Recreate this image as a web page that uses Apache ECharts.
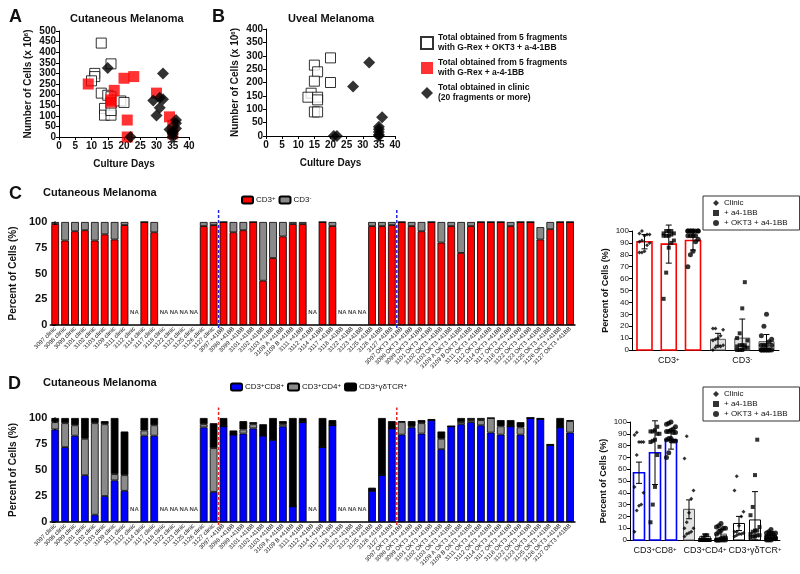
<!DOCTYPE html>
<html><head><meta charset="utf-8">
<script src="https://cdn.jsdelivr.net/npm/echarts@6/dist/echarts.min.js"></script>
<style>html,body{margin:0;padding:0;background:#fff}#c{width:800px;height:574px}</style>
</head><body><div id="c"></div>
<script>
// ---------- Panel A (Cutaneous) ----------
const aOkt3 = [[13,443],[16,345],[11,300],[11,285],[10,265],[13,207],[15,197],[16,190],[14,135],[14,103],[16,103],[16,125],[16,160],[19,170],[20,163]];
const aBB = [[9,250],[17,220],[16,175],[16,165],[20,277],[23,285],[21,80],[21,0],[30,207],[34,95],[35,55],[35,15]];
const aClinic = [[15,325],[22,0],[32,300],[29,172],[31,185],[32,178],[31,138],[30,102],[34,35],[35,0],[35,15],[36,80],[36,65],[36,40],[35,25]];
// ---------- Panel B (Uveal) ----------
const bOkt3 = [[15,265],[16,240],[15,205],[20,292],[20,200],[14,160],[13,145],[16,145],[16,135],[15,90],[16,90]];
const bClinic = [[32,275],[27,185],[36,70],[35,35],[35,25],[35,15],[35,5],[35,0],[21,0],[22,0]];

// ---------- Panels C / D categories ----------
const clinicLabels = ['3097 clinic','3098 clinic','3099 clinic','3101 clinic','3102 clinic','3103 clinic','3109 clinic','3111 clinic','3112 clinic','3114 clinic','3117 clinic','3118 clinic','3122 clinic','3123 clinic','3125 clinic','3126 clinic','3127 clinic'];
const bbLabels = ['3097 +41BB','3098 +41BB','3099 +41BB','3101 +41BB','3102 +41BB','3103 +41BB','3109 A +41BB','3109 B +41BB','3111 +41BB','3112 +41BB','3114 +41BB','3117 +41BB','3118 +41BB','3122 +41BB','3123 +41BB','3125 +41BB','3126 +41BB','3127 +41BB'];
const okt3Labels = ['3097 OKT3 +41BB','3098 OKT3 +41BB','3099 OKT3 +41BB','3101 OKT3 +41BB','3102 OKT3 +41BB','3103 OKT3 +41BB','3109 A OKT3 +41BB','3109 B OKT3 +41BB','3111 OKT3 +41BB','3112 OKT3 +41BB','3114 OKT3 +41BB','3117 OKT3 +41BB','3118 OKT3 +41BB','3122 OKT3 +41BB','3123 OKT3 +41BB','3125 OKT3 +41BB','3126 OKT3 +41BB','3127 OKT3 +41BB'];

// Panel C (percent), null = NA
const cCD3pos = [98,82,91,92,82,88,83,97,null,100,90,null,null,null,null,96,97,
                 100,90,92,100,43,65,86,98,98,null,100,96,null,null,null,96,96,97,
                 100,96,91,100,80,96,70,96,100,100,100,96,100,100,83,93,100,100];
const cCD3neg = [2,18,9,8,18,12,17,3,null,0,10,null,null,null,null,4,3,
                 0,10,8,0,57,35,14,2,2,null,0,4,null,null,null,4,4,3,
                 0,4,9,0,20,4,30,4,0,0,0,4,0,0,12,7,0,0];
// Panel D (percent), null = NA
const dCD8 = [89,72,83,45,7,25,40,30,null,83,83,null,null,null,null,91,29,
              92,84,85,90,83,79,92,15,96,null,72,93,null,null,null,30,45,90,
              84,91,85,98,70,92,94,96,93,86,84,92,84,100,99,74,91,86];
const dCD4 = [7,23,10,35,88,69,6,15,null,5,10,null,null,null,null,3,42,
              0,0,4,4,0,0,2,0,0,null,0,0,null,null,null,0,0,0,
              12,1,10,0,10,0,2,2,5,14,8,0,7,0,0,0,0,11];
const dGD  = [4,5,7,20,5,3,54,42,null,12,7,null,null,null,null,6,24,
              8,4,8,2,11,21,3,85,4,null,28,5,null,null,null,3,55,7,
              1,5,3,1,7,0,4,2,2,0,6,6,5,0,1,1,9,1];

// Small summary charts: mean and error per group
const cSmallCats = ['CD3+','CD3-'];
const cMeanClinic = [91,9],  cErrClinic = [6,5];
const cMeanBB     = [89,10], cErrBB     = [16,16];
const cMeanOKT3   = [92,7],  cErrOKT3   = [8,6];
const dSmallCats = ['CD3+CD8+','CD3+CD4+','CD3+γδTCR+'];
const dMeanClinic = [57,26,14], dErrClinic = [9,8,6];
const dMeanBB     = [74,3,17],  dErrBB     = [27,2,24];
const dMeanOKT3   = [85,5,4],   dErrOKT3   = [8,4,3];

// ---------------------------------------------------------------
const F = 'Liberation Sans, Arial, sans-serif';
const cats = clinicLabels.concat(bbLabels, okt3Labels);
const nC = clinicLabels.length, nB = bbLabels.length;
const chart = echarts.init(document.getElementById('c'));

const sup = {s:{fontSize:6, verticalAlign:'top', fontFamily:F, color:'#111', padding:[0,0,4,0]}};
function supLabel(t){ return t.replace(/([+-])/g,'{s|$1}'); }

const naData = a => a.map((v,i)=> v===null?[i,12]:null).filter(Boolean);

function groupVals(arr, g){
  const s = g===0?0:(g===1?nC:nC+nB), e = g===0?nC:(g===1?nC+nB:cats.length);
  return arr.slice(s,e).filter(v=>v!==null);
}
function jitterPts(vals, center, spread){
  const sorted = vals.slice().sort((a,b)=>a-b);
  return sorted.map((v,k)=>[center + ((k%5)-2)*spread, v]);
}

const smallBarStyles = {
  cPos:{fill:'#fff',stroke:'#ff0000',lw:1.6},
  cNeg:{fill:'#e2e2e2',stroke:'#555',lw:1},
  dCD8:{fill:'#fff',stroke:'#0000ff',lw:1.6},
  dCD4:{fill:'#e2e2e2',stroke:'#555',lw:1},
  dGD:{fill:'#fff',stroke:'#000',lw:1}
};
function barRender(w, src){
  return function(params, api){
    const x=api.value(0), y=api.value(1), st=smallBarStyles[src[params.dataIndex][2]];
    const p0=api.coord([x,0]), p1=api.coord([x,y]);
    return {type:'rect', shape:{x:p0[0]-w/2,y:p1[1],width:w,height:p0[1]-p1[1]},
      style:{fill:st.fill,stroke:st.stroke,lineWidth:st.lw}};
  };
}
function errRender(cap){
  return function(params, api){
    const x=api.value(0), m=api.value(1), e=api.value(2);
    const lo=api.coord([x,Math.max(0,m-e)]), hi=api.coord([x,m+e]);
    const s={stroke:'#000',lineWidth:1};
    return {type:'group',children:[
      {type:'line',shape:{x1:lo[0],y1:lo[1],x2:hi[0],y2:hi[1]},style:s},
      {type:'line',shape:{x1:hi[0]-cap,y1:hi[1],x2:hi[0]+cap,y2:hi[1]},style:s},
      {type:'line',shape:{x1:lo[0]-cap,y1:lo[1],x2:lo[0]+cap,y2:lo[1]},style:s}
    ]};
  };
}

// small C data
const cOff = 0.33;
const cMeans=[cMeanClinic,cMeanBB,cMeanOKT3], cErrs=[cErrClinic,cErrBB,cErrOKT3];
const cBarData=[], cErrData=[];
for(let j=0;j<2;j++) for(let g=0;g<3;g++){
  const x=j+0.5+(g-1)*cOff;
  cBarData.push([x,cMeans[g][j], j===0?'cPos':'cNeg']);
  cErrData.push([x,cMeans[g][j],cErrs[g][j]]);
}
const cArrs=[cCD3pos,cCD3neg];
function cPts(g){let r=[];for(let j=0;j<2;j++) r=r.concat(jitterPts(groupVals(cArrs[j],g), j+0.5+(g-1)*cOff, 0.035));return r;}
// small D data
const dOff = 0.32;
const dMeans=[dMeanClinic,dMeanBB,dMeanOKT3], dErrs=[dErrClinic,dErrBB,dErrOKT3];
const dKeys=['dCD8','dCD4','dGD'];
const dBarData=[], dErrData=[];
for(let j=0;j<3;j++) for(let g=0;g<3;g++){
  const x=j+0.5+(g-1)*dOff;
  dBarData.push([x,dMeans[g][j],dKeys[j]]);
  dErrData.push([x,dMeans[g][j],dErrs[g][j]]);
}
const dArrs=[dCD8,dCD4,dGD];
function dPts(g){let r=[];for(let j=0;j<3;j++) r=r.concat(jitterPts(groupVals(dArrs[j],g), j+0.5+(g-1)*dOff, 0.045));return r;}

const tickLbl = {fontFamily:F,fontWeight:'bold',fontSize:10,color:'#111'};
function valAxisXY(extra){return Object.assign({type:'value',axisLine:{show:true,lineStyle:{color:'#000'}},axisTick:{show:true,length:3,lineStyle:{color:'#000'}},splitLine:{show:false}},extra);}

const smallLbl={fontFamily:F,fontSize:8,color:'#111'};
const supName={s:{fontSize:6,fontWeight:'bold',fontFamily:F,verticalAlign:'top',padding:[0,0,4,0]}};
const option = {
  animation:false,
  backgroundColor:'#fff',
  textStyle:{fontFamily:F},
  grid:[
    {left:59,top:31,width:130,height:106},
    {left:266,top:29,width:129,height:107},
    {left:43,top:222,width:532,height:103},
    {left:632,top:231,width:147,height:119},
    {left:43,top:418,width:532,height:104},
    {left:630,top:422,width:150,height:118}
  ],
  xAxis:[
    valAxisXY({gridIndex:0,min:0,max:40,interval:5,axisLabel:Object.assign({margin:4},tickLbl),
      name:'Culture Days',nameLocation:'middle',nameGap:22,nameTextStyle:{fontFamily:F,fontWeight:'bold',fontSize:10,color:'#111'}}),
    valAxisXY({gridIndex:1,min:0,max:40,interval:5,axisLabel:Object.assign({margin:4},tickLbl),
      name:'Culture Days',nameLocation:'middle',nameGap:22,nameTextStyle:{fontFamily:F,fontWeight:'bold',fontSize:10,color:'#111'}}),
    {type:'category',gridIndex:2,data:cats,axisLine:{lineStyle:{color:'#000',width:1.5}},
      axisTick:{alignWithLabel:true,interval:0,length:3,lineStyle:{color:'#000'}},
      axisLabel:{interval:0,rotate:45,fontSize:6,margin:3,color:'#222',fontFamily:F}},
    {type:'value',gridIndex:2,min:-0.5,max:52.5,show:false},
    {type:'category',gridIndex:3,data:cSmallCats,axisLine:{lineStyle:{color:'#000'}},axisTick:{show:false},
      axisLabel:{fontSize:9,fontFamily:F,color:'#111',margin:6,formatter:v=>supLabel(v),rich:sup}},
    {type:'value',gridIndex:3,min:0,max:2,show:false},
    {type:'category',gridIndex:4,data:cats,axisLine:{lineStyle:{color:'#000',width:1.5}},
      axisTick:{alignWithLabel:true,interval:0,length:3,lineStyle:{color:'#000'}},
      axisLabel:{interval:0,rotate:45,fontSize:6,margin:3,color:'#222',fontFamily:F}},
    {type:'value',gridIndex:4,min:-0.5,max:52.5,show:false},
    {type:'category',gridIndex:5,data:dSmallCats,axisLine:{lineStyle:{color:'#000'}},axisTick:{show:false},
      axisLabel:{fontSize:9,fontFamily:F,color:'#111',margin:6,interval:0,formatter:v=>supLabel(v),rich:sup}},
    {type:'value',gridIndex:5,min:0,max:3,show:false}
  ],
  yAxis:[
    valAxisXY({gridIndex:0,min:0,max:500,interval:50,axisLabel:Object.assign({margin:3},tickLbl),
      name:'Number of Cells (x 10{s|6})',nameLocation:'middle',nameGap:26,
      nameTextStyle:{fontFamily:F,fontWeight:'bold',fontSize:10,color:'#111',rich:supName}}),
    valAxisXY({gridIndex:1,min:0,max:400,interval:50,axisLabel:Object.assign({margin:3},tickLbl),
      name:'Number of Cells (x 10{s|6})',nameLocation:'middle',nameGap:26,
      nameTextStyle:{fontFamily:F,fontWeight:'bold',fontSize:10,color:'#111',rich:supName}}),
    valAxisXY({gridIndex:2,min:0,max:100,interval:25,axisLine:{show:true,lineStyle:{color:'#000',width:1.5}},
      axisLabel:{fontFamily:F,fontWeight:'bold',fontSize:11,color:'#111',margin:3},
      name:'Percent of Cells (%)',nameLocation:'middle',nameGap:24,nameTextStyle:{fontFamily:F,fontSize:10,fontWeight:'bold',color:'#111'}}),
    valAxisXY({gridIndex:3,min:0,max:100,interval:10,axisLabel:Object.assign({margin:3},smallLbl),
      name:'Percent of Cells (%)',nameLocation:'middle',nameGap:22,nameTextStyle:{fontFamily:F,fontSize:9,fontWeight:'bold',color:'#111'}}),
    valAxisXY({gridIndex:4,min:0,max:100,interval:25,axisLine:{show:true,lineStyle:{color:'#000',width:1.5}},
      axisLabel:{fontFamily:F,fontWeight:'bold',fontSize:11,color:'#111',margin:3},
      name:'Percent of Cells (%)',nameLocation:'middle',nameGap:24,nameTextStyle:{fontFamily:F,fontSize:10,fontWeight:'bold',color:'#111'}}),
    valAxisXY({gridIndex:5,min:0,max:100,interval:10,axisLabel:Object.assign({margin:3},smallLbl),
      name:'Percent of Cells (%)',nameLocation:'middle',nameGap:22,nameTextStyle:{fontFamily:F,fontSize:9,fontWeight:'bold',color:'#111'}})
  ],
  legend:[
    {left:420,top:33,padding:0,orient:'vertical',itemGap:5,itemWidth:12,itemHeight:12,
      data:['legOKT3','legBB','legClinic'],
      formatter:n=>({legOKT3:'Total obtained from 5 fragments\nwith G-Rex + OKT3 + a-4-1BB',
                     legBB:'Total obtained from 5 fragments\nwith G-Rex + a-4-1BB',
                     legClinic:'Total obtained in clinic\n(20 fragments or more)'})[n],
      textStyle:{fontFamily:F,fontWeight:'bold',fontSize:8.5,lineHeight:10,color:'#111'}},
    {left:241,top:195,padding:0,itemWidth:11,itemHeight:7,itemGap:3,data:['CD3+','CD3-'],
      formatter:n=>supLabel(n),textStyle:{fontFamily:F,fontSize:8,color:'#111',padding:[0,0,0,-2],rich:sup}},
    {left:230,top:382,padding:0,itemWidth:11,itemHeight:7,itemGap:3,data:['CD3+CD8+','CD3+CD4+','CD3+γδTCR+'],
      formatter:n=>supLabel(n),textStyle:{fontFamily:F,fontSize:8,color:'#111',padding:[0,0,0,-2],rich:sup}},
    {left:703,top:196,orient:'vertical',itemGap:2,itemWidth:6,itemHeight:6,padding:[3,12,3,10],
      borderColor:'#333',borderWidth:1,data:['Clinic','+ a4-1BB','+ OKT3 + a4-1BB'],
      textStyle:{fontFamily:F,fontSize:8,color:'#111'}},
    {left:703,top:387,orient:'vertical',itemGap:2,itemWidth:6,itemHeight:6,padding:[3,12,3,10],
      borderColor:'#333',borderWidth:1,data:['Clinic','+ a4-1BB','+ OKT3 + a4-1BB'],
      textStyle:{fontFamily:F,fontSize:8,color:'#111'}}
  ],
  graphic:[
    {type:'text',left:9,top:8,style:{text:'A',font:'bold 18px '+F,fill:'#111'}},
    {type:'text',left:212,top:8,style:{text:'B',font:'bold 18px '+F,fill:'#111'}},
    {type:'text',left:70,top:13,style:{text:'Cutaneous Melanoma',font:'bold 11px '+F,fill:'#111'}},
    {type:'text',left:288,top:13,style:{text:'Uveal Melanoma',font:'bold 11px '+F,fill:'#111'}},
    {type:'text',left:9,top:185,style:{text:'C',font:'bold 18px '+F,fill:'#111'}},
    {type:'text',left:43,top:187,style:{text:'Cutaneous Melanoma',font:'bold 11px '+F,fill:'#111'}},
    {type:'text',left:8,top:375,style:{text:'D',font:'bold 18px '+F,fill:'#111'}},
    {type:'text',left:43,top:377,style:{text:'Cutaneous Melanoma',font:'bold 11px '+F,fill:'#111'}}
  ],
  series:[
    {type:'scatter',name:'legOKT3',xAxisIndex:0,yAxisIndex:0,data:aOkt3,symbol:'rect',symbolSize:10,
      itemStyle:{color:'#fff',borderColor:'#000',borderWidth:1},z:3},
    {type:'scatter',name:'legBB',xAxisIndex:0,yAxisIndex:0,data:aBB,symbol:'rect',symbolSize:11,
      itemStyle:{color:'#ff0000'},z:4},
    {type:'scatter',name:'legClinic',xAxisIndex:0,yAxisIndex:0,data:aClinic,symbol:'diamond',symbolSize:12,
      itemStyle:{color:'#000'},z:5},
    {type:'scatter',name:'legOKT3',xAxisIndex:1,yAxisIndex:1,data:bOkt3,symbol:'rect',symbolSize:10,
      itemStyle:{color:'#fff',borderColor:'#000',borderWidth:1},z:3},
    {type:'scatter',name:'legClinic',xAxisIndex:1,yAxisIndex:1,data:bClinic,symbol:'diamond',symbolSize:12,
      itemStyle:{color:'#000'},z:5},
    {type:'bar',name:'CD3+',stack:'c',xAxisIndex:2,yAxisIndex:2,data:cCD3pos,barWidth:'78%',
      itemStyle:{color:'#ff0000',borderColor:'#000',borderWidth:0.8}},
    {type:'bar',name:'CD3-',stack:'c',xAxisIndex:2,yAxisIndex:2,data:cCD3neg,barWidth:'78%',
      itemStyle:{color:'#8a8a8a',borderColor:'#000',borderWidth:0.8}},
    {type:'scatter',xAxisIndex:2,yAxisIndex:2,data:naData(cCD3pos),symbolSize:1,itemStyle:{color:'rgba(0,0,0,0)'},
      label:{show:true,position:'inside',formatter:'NA',fontSize:6,fontWeight:'bold',color:'#111',fontFamily:F},silent:true},
    {type:'line',xAxisIndex:3,yAxisIndex:2,data:[[nC-0.5,-3],[nC-0.5,112]],clip:false,symbol:'none',
      lineStyle:{color:'#2222ee',type:[3,2],width:1.5},z:6,silent:true},
    {type:'line',xAxisIndex:3,yAxisIndex:2,data:[[nC+nB-0.5,-3],[nC+nB-0.5,112]],clip:false,symbol:'none',
      lineStyle:{color:'#2222ee',type:[3,2],width:1.5},z:6,silent:true},
    {type:'custom',xAxisIndex:5,yAxisIndex:3,data:cBarData,renderItem:barRender(15,cBarData),z:2},
    {type:'scatter',name:'Clinic',xAxisIndex:5,yAxisIndex:3,data:cPts(0),symbol:'diamond',symbolSize:4,itemStyle:{color:'#000'},z:3},
    {type:'scatter',name:'+ a4-1BB',xAxisIndex:5,yAxisIndex:3,data:cPts(1),symbol:'rect',symbolSize:4,itemStyle:{color:'#000'},z:3},
    {type:'scatter',name:'+ OKT3 + a4-1BB',xAxisIndex:5,yAxisIndex:3,data:cPts(2),symbol:'circle',symbolSize:5,itemStyle:{color:'#000'},z:3},
    {type:'custom',xAxisIndex:5,yAxisIndex:3,data:cErrData,renderItem:errRender(3),z:4},
    {type:'bar',name:'CD3+CD8+',stack:'d',xAxisIndex:6,yAxisIndex:4,data:dCD8,barWidth:'78%',
      itemStyle:{color:'#0000ff',borderColor:'#000',borderWidth:0.8}},
    {type:'bar',name:'CD3+CD4+',stack:'d',xAxisIndex:6,yAxisIndex:4,data:dCD4,barWidth:'78%',
      itemStyle:{color:'#8a8a8a',borderColor:'#000',borderWidth:0.8}},
    {type:'bar',name:'CD3+γδTCR+',stack:'d',xAxisIndex:6,yAxisIndex:4,data:dGD,barWidth:'78%',
      itemStyle:{color:'#000',borderColor:'#000',borderWidth:0.8}},
    {type:'scatter',xAxisIndex:6,yAxisIndex:4,data:naData(dCD8),symbolSize:1,itemStyle:{color:'rgba(0,0,0,0)'},
      label:{show:true,position:'inside',formatter:'NA',fontSize:6,fontWeight:'bold',color:'#111',fontFamily:F},silent:true},
    {type:'line',xAxisIndex:7,yAxisIndex:4,data:[[nC-0.5,-3],[nC-0.5,110]],clip:false,symbol:'none',
      lineStyle:{color:'#ee2222',type:[3,2],width:1.5},z:6,silent:true},
    {type:'line',xAxisIndex:7,yAxisIndex:4,data:[[nC+nB-0.5,-3],[nC+nB-0.5,110]],clip:false,symbol:'none',
      lineStyle:{color:'#ee2222',type:[3,2],width:1.5},z:6,silent:true},
    {type:'custom',xAxisIndex:9,yAxisIndex:5,data:dBarData,renderItem:barRender(11,dBarData),z:2},
    {type:'scatter',name:'Clinic',xAxisIndex:9,yAxisIndex:5,data:dPts(0),symbol:'diamond',symbolSize:4,itemStyle:{color:'#000'},z:3},
    {type:'scatter',name:'+ a4-1BB',xAxisIndex:9,yAxisIndex:5,data:dPts(1),symbol:'rect',symbolSize:4,itemStyle:{color:'#000'},z:3},
    {type:'scatter',name:'+ OKT3 + a4-1BB',xAxisIndex:9,yAxisIndex:5,data:dPts(2),symbol:'circle',symbolSize:5,itemStyle:{color:'#000'},z:3},
    {type:'custom',xAxisIndex:9,yAxisIndex:5,data:dErrData,renderItem:errRender(3),z:4}
  ]
};
chart.setOption(option);
</script></body></html>
